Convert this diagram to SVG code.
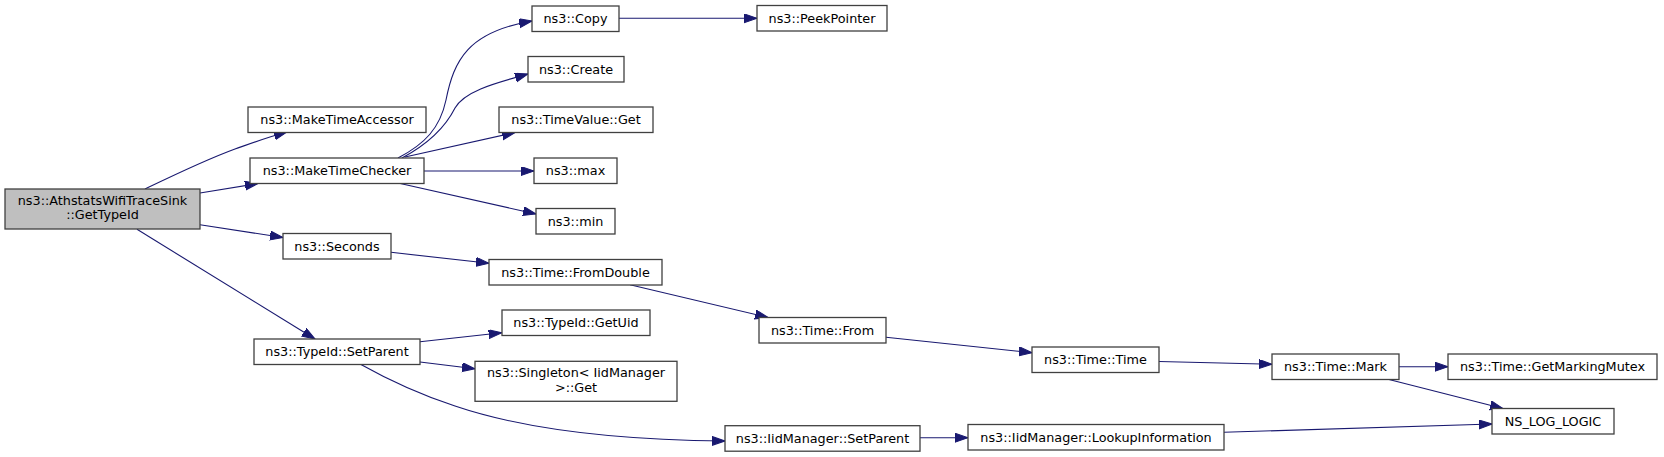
<svg xmlns="http://www.w3.org/2000/svg" width="1664" height="457" viewBox="0 0 1664 457">
<style>
.n rect{fill:#ffffff;stroke:#404040;stroke-width:1.3}
.n.root rect{fill:#bfbfbf}
.n text{font-family:"DejaVu Sans",Verdana,sans-serif;font-size:12.8px;fill:#000;text-anchor:middle}
.e path{fill:none;stroke:#191970;stroke-width:1.1;marker-end:url(#ah)}
</style>
<defs>
<marker id="ah" markerUnits="userSpaceOnUse" markerWidth="14" markerHeight="10" refX="13" refY="4.5" orient="auto">
<path d="M0,0 L13,4.5 L0,9 z" fill="#191970" stroke="#191970" stroke-width="1"/>
</marker>
</defs>
<rect width="1664" height="457" fill="#ffffff"/>
<g id="edges" class="e">
<path d="M145,189 C172,176 205,160 235,149 C252,143 268,137 287,132"/>
<path d="M200,193 L258,183.5"/>
<path d="M200,224.7 L283,237.5"/>
<path d="M137,229.3 L315,339"/>
<path d="M398,158 C425,144 440,128 446,100 C454,60 468,32 532,21"/>
<path d="M619,18.3 L757,18.3"/>
<path d="M402,158 C428,144 445,128 455,108 C465,90 500,82 528,74"/>
<path d="M405,157 L515,132.5"/>
<path d="M424,171 L534,171"/>
<path d="M398,183 L536,214"/>
<path d="M391,252.3 L489,263.3"/>
<path d="M630,284.7 L768,317.5"/>
<path d="M886,337.3 L1032,352.7"/>
<path d="M1159,361.5 L1272,364.3"/>
<path d="M1399,366.7 L1448,366.7"/>
<path d="M1388,379.3 L1503,408.5"/>
<path d="M1224,432.3 L1492,424"/>
<path d="M420,341.7 L501.7,332.7"/>
<path d="M420,362 L475,368.7"/>
<path d="M360,364 C385,378 415,393 455,406 C520,428 610,440 725,441"/>
<path d="M920,437.7 L968,437.7"/>
</g>
<g id="node_root" class="n root"><rect x="5" y="189" width="195" height="40"/><text x="102.5" y="205">ns3::AthstatsWifiTraceSink</text><text x="102.5" y="219">::GetTypeId</text></g>
<g id="node_MakeTimeAccessor" class="n"><rect x="248" y="107" width="178" height="25.5"/><text x="337" y="124">ns3::MakeTimeAccessor</text></g>
<g id="node_MakeTimeChecker" class="n"><rect x="250" y="158" width="174" height="25.5"/><text x="337" y="175">ns3::MakeTimeChecker</text></g>
<g id="node_Copy" class="n"><rect x="532" y="6" width="87" height="25.5"/><text x="575.5" y="23">ns3::Copy</text></g>
<g id="node_PeekPointer" class="n"><rect x="757" y="5.5" width="130" height="25.5"/><text x="822" y="22.5">ns3::PeekPointer</text></g>
<g id="node_Create" class="n"><rect x="528" y="56.5" width="96" height="25.5"/><text x="576" y="73.5">ns3::Create</text></g>
<g id="node_TimeValueGet" class="n"><rect x="499" y="107" width="154" height="25.5"/><text x="576" y="124">ns3::TimeValue::Get</text></g>
<g id="node_max" class="n"><rect x="534" y="158" width="83" height="25.5"/><text x="575.5" y="175">ns3::max</text></g>
<g id="node_min" class="n"><rect x="536" y="208.5" width="79" height="25.5"/><text x="575.5" y="225.5">ns3::min</text></g>
<g id="node_Seconds" class="n"><rect x="283" y="233.5" width="108" height="25.5"/><text x="337" y="250.5">ns3::Seconds</text></g>
<g id="node_FromDouble" class="n"><rect x="489" y="259.5" width="173" height="25.5"/><text x="575.5" y="276.5">ns3::Time::FromDouble</text></g>
<g id="node_TypeIdSetParent" class="n"><rect x="254" y="339" width="166" height="25.5"/><text x="337" y="356">ns3::TypeId::SetParent</text></g>
<g id="node_GetUid" class="n"><rect x="502" y="310" width="148" height="25.5"/><text x="576" y="327">ns3::TypeId::GetUid</text></g>
<g id="node_Singleton" class="n"><rect x="475" y="361.3" width="202" height="40"/><text x="576" y="377.3">ns3::Singleton&lt; IidManager</text><text x="576" y="391.7">&gt;::Get</text></g>
<g id="node_TimeFrom" class="n"><rect x="759" y="317.5" width="127" height="25.5"/><text x="822.5" y="334.5">ns3::Time::From</text></g>
<g id="node_IidSetParent" class="n"><rect x="725" y="425.7" width="195" height="25.5"/><text x="822.5" y="442.7">ns3::IidManager::SetParent</text></g>
<g id="node_TimeTime" class="n"><rect x="1032" y="347" width="127" height="25.5"/><text x="1095.5" y="364">ns3::Time::Time</text></g>
<g id="node_Lookup" class="n"><rect x="968" y="424.5" width="256" height="25.5"/><text x="1096" y="441.5">ns3::IidManager::LookupInformation</text></g>
<g id="node_Mark" class="n"><rect x="1272" y="354" width="127" height="25.5"/><text x="1335.5" y="371">ns3::Time::Mark</text></g>
<g id="node_GetMarkingMutex" class="n"><rect x="1448" y="354" width="209" height="25.5"/><text x="1552.5" y="371">ns3::Time::GetMarkingMutex</text></g>
<g id="node_NS_LOG_LOGIC" class="n"><rect x="1492" y="408.5" width="122" height="25.5"/><text x="1553" y="425.5">NS_LOG_LOGIC</text></g>
</svg>
